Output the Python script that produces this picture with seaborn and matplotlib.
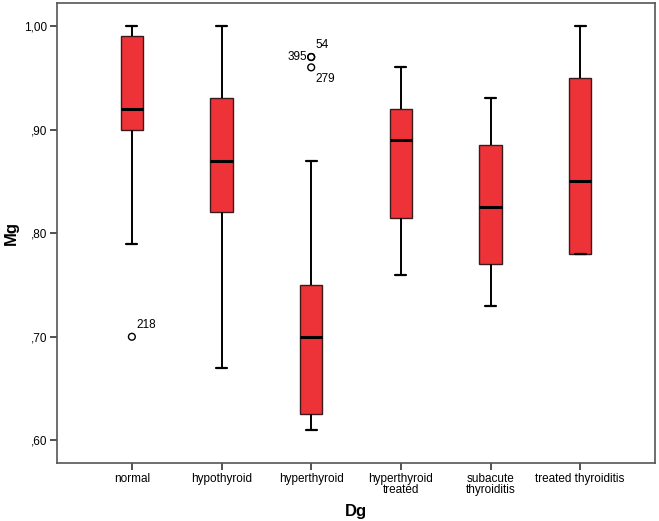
import numpy as np
import pandas as pd
import matplotlib
matplotlib.use('Agg')
import matplotlib.pyplot as plt
import seaborn as sns

# Groups on the x axis
groups = ['normal', 'hypothyroid', 'hyperthyroid', 'hyperthyroid\ntreated',
          'subacute\nthyroiditis', 'treated thyroiditis']

# Five-number summaries (lower whisker, Q1, median, Q3, upper whisker)
whisker_low = [0.79, 0.67, 0.61, 0.76, 0.73, 0.78]
q1 = [0.90, 0.82, 0.625, 0.815, 0.77, 0.78]
median = [0.92, 0.87, 0.70, 0.89, 0.825, 0.85]
q3 = [0.99, 0.93, 0.75, 0.92, 0.885, 0.95]
whisker_high = [1.00, 1.00, 0.87, 0.96, 0.93, 1.00]

# Outliers (case numbers shown next to them)
outlier_group = ['normal', 'hyperthyroid', 'hyperthyroid', 'hyperthyroid']
outlier_value = [0.70, 0.97, 0.97, 0.96]
outlier_case = ['218', '54', '395', '279']

yticks = [0.60, 0.70, 0.80, 0.90, 1.00]
ytick_labels = [',60', ',70', ',80', ',90', '1,00']

# long table: with 5 values per group the quartiles come out exactly as read
rows = []
for i, g in enumerate(groups):
    for v in [whisker_low[i], q1[i], median[i], q3[i], whisker_high[i]]:
        rows.append({'Dg': g, 'Mg': v})
df = pd.DataFrame(rows)
out = pd.DataFrame({'Dg': outlier_group, 'Mg': outlier_value, 'case': outlier_case})

sns.set_style('white')
plt.rcParams['font.family'] = ['Liberation Sans', 'DejaVu Sans']
plt.rcParams['text.color'] = 'black'
plt.rcParams['axes.labelcolor'] = 'black'
plt.rcParams['xtick.color'] = 'black'
plt.rcParams['ytick.color'] = 'black'

fig = plt.figure(figsize=(6.59, 5.21), dpi=100)
ax = fig.add_axes([0.0865, 0.111, 0.9075, 0.883])

sns.boxplot(data=df, x='Dg', y='Mg', order=groups, width=0.25, whis=np.inf,
            color='#EE3338', saturation=1, linewidth=1.4, ax=ax,
            boxprops=dict(edgecolor='#3a1a1a', linewidth=1.0),
            medianprops=dict(color='black', linewidth=2.2),
            whiskerprops=dict(color='black', linewidth=1.4),
            capprops=dict(color='black', linewidth=1.6))

sns.scatterplot(data=out, x='Dg', y='Mg', ax=ax, marker='o', s=24,
                facecolor='none', edgecolor='black', linewidth=1.0, legend=False)

# case number labels
pos = {g: i for i, g in enumerate(groups)}
offsets = {'218': (3, 4, 'left', 'bottom'), '54': (3, 4, 'left', 'bottom'),
           '395': (-3, 0, 'right', 'center'), '279': (3, -4, 'left', 'top')}
for g, v, c in zip(out['Dg'], out['Mg'], out['case']):
    dx, dy, ha, va = offsets[c]
    ax.annotate(c, (pos[g], v), xytext=(dx, dy), textcoords='offset points',
                ha=ha, va=va, fontsize=8.5, color='black')

ax.set_xlim(-0.835, 5.835)
ax.set_ylim(0.578, 1.022)
ax.set_yticks(yticks)
ax.set_yticklabels(ytick_labels)
ax.tick_params(axis='both', direction='out', length=5, width=1.2, color='#333333',
               labelcolor='black', labelsize=8.5, bottom=True, left=True, pad=2)
for t in ax.get_xticklabels():
    t.set_linespacing(0.85)
for s in ax.spines.values():
    s.set_color('#555555')
    s.set_linewidth(1.2)

ax.set_xlabel('Dg', fontsize=12, fontweight='bold', labelpad=6, color='black')
ax.set_ylabel('Mg', fontsize=12, fontweight='bold', labelpad=4, color='black')

fig.savefig('out.png', dpi=100)
